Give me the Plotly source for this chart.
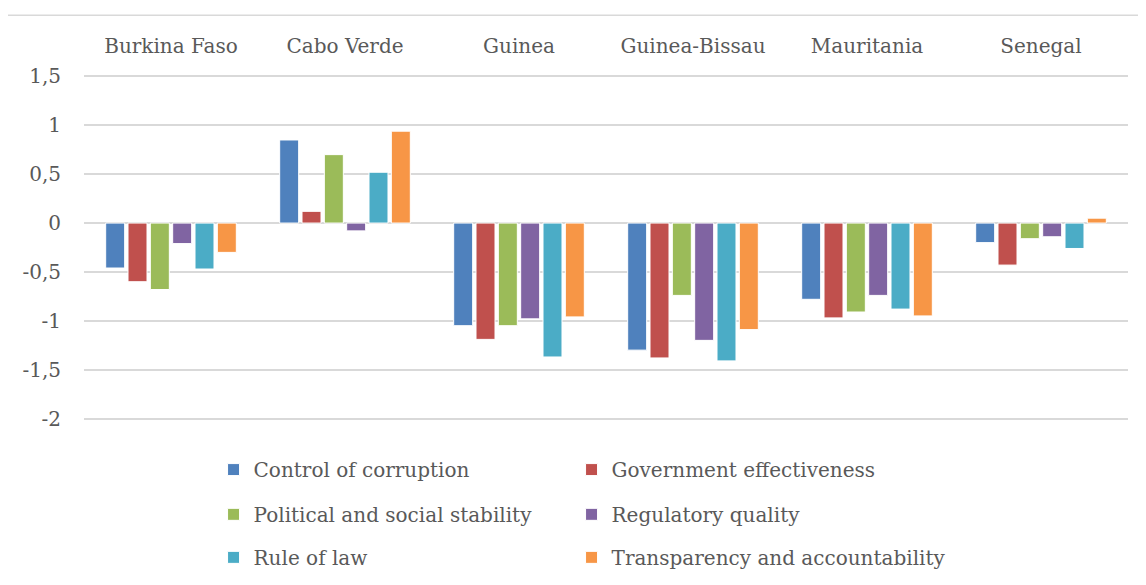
import plotly.graph_objects as go

countries = ["Burkina Faso", "Cabo Verde", "Guinea", "Guinea-Bissau", "Mauritania", "Senegal"]

control_of_corruption = [-0.46, 0.85, -1.05, -1.30, -0.78, -0.20]
government_effectiveness = [-0.60, 0.12, -1.19, -1.38, -0.97, -0.43]
political_social_stability = [-0.68, 0.70, -1.05, -0.74, -0.91, -0.16]
regulatory_quality = [-0.21, -0.08, -0.98, -1.20, -0.74, -0.14]
rule_of_law = [-0.47, 0.52, -1.37, -1.41, -0.88, -0.26]
transparency_accountability = [-0.30, 0.94, -0.96, -1.09, -0.95, 0.05]

y_ticks = [-2, -1.5, -1, -0.5, 0, 0.5, 1, 1.5]
y_tick_labels = ["-2", "-1,5", "-1", "-0,5", "0", "0,5", "1", "1,5"]

series = [
    ("Control of corruption", control_of_corruption, "#4F81BD"),
    ("Government effectiveness", government_effectiveness, "#C0504D"),
    ("Political and social stability", political_social_stability, "#9BBB59"),
    ("Regulatory quality", regulatory_quality, "#8064A2"),
    ("Rule of law", rule_of_law, "#4BACC6"),
    ("Transparency and accountability", transparency_accountability, "#F79646"),
]

FONT = "DejaVu Serif"
TEXT = "#595959"
SIZE = 20

# one legend per entry so the two-column grid is laid out like the original
legend_cols = [0.1241, 0.467]
legend_rows = [-0.140, -0.269, -0.393]

fig = go.Figure()
legends = {}
for i, (name, values, color) in enumerate(series):
    key = "legend" if i == 0 else f"legend{i + 1}"
    fig.add_trace(
        go.Bar(
            x=countries,
            y=values,
            name=name,
            legend=key,
            marker=dict(color=color, line=dict(color="white", width=1)),
        )
    )
    legends[key] = dict(
        x=legend_cols[i % 2],
        y=legend_rows[i // 2],
        xanchor="left",
        yanchor="middle",
        font=dict(family=FONT, size=SIZE, color=TEXT),
        bgcolor="rgba(0,0,0,0)",
    )

# the page body adds an 8px offset, so margins are shifted to compensate
fig.update_layout(
    width=1146,
    height=585,
    margin=dict(l=76, r=26, t=65.6, b=172.4, autoexpand=False),
    paper_bgcolor="white",
    plot_bgcolor="white",
    barmode="group",
    bargap=0.23,
    bargroupgap=0.15,
    font=dict(family=FONT, size=SIZE, color=TEXT),
    showlegend=True,
    xaxis=dict(
        side="top",
        automargin=False,
        showgrid=False,
        showline=False,
        ticks="",
        ticklabelstandoff=16,
        tickfont=dict(family=FONT, size=SIZE, color=TEXT),
    ),
    yaxis=dict(
        range=[-2.025, 1.525],
        automargin=False,
        tickvals=y_ticks,
        ticktext=y_tick_labels,
        showgrid=True,
        gridcolor="#D9D9D9",
        gridwidth=1.5,
        zeroline=True,
        zerolinecolor="#D9D9D9",
        zerolinewidth=1.5,
        showline=False,
        ticks="",
        ticklabelstandoff=22,
        tickfont=dict(family=FONT, size=SIZE, color=TEXT),
    ),
    shapes=[
        dict(
            type="rect",
            xref="paper",
            yref="paper",
            x0=-0.0738,
            x1=1.2,
            y0=-0.7,
            y1=1.169,
            line=dict(color="#D9D9D9", width=1.5),
            fillcolor="rgba(0,0,0,0)",
            layer="below",
        )
    ],
    **legends,
)

fig.write_html("out.html")
